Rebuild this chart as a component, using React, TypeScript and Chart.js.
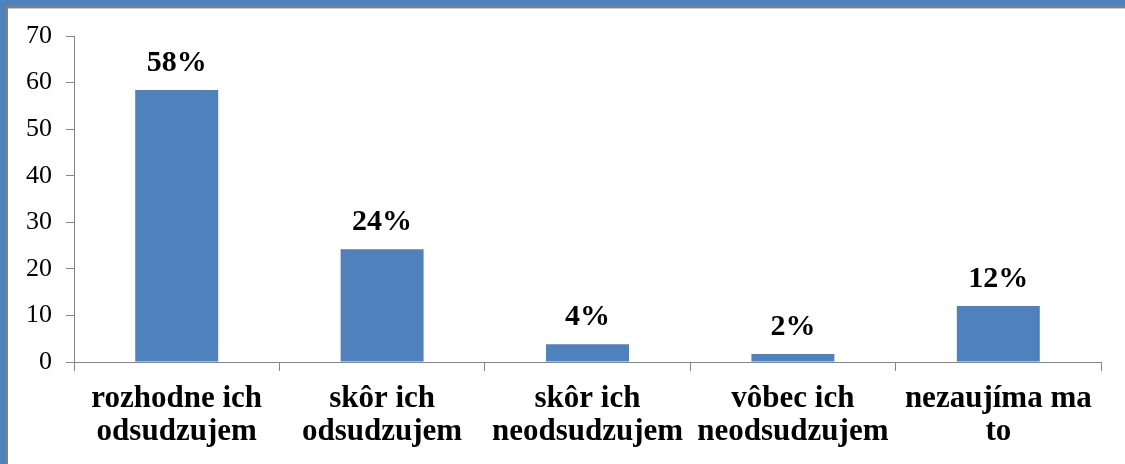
import React, { useEffect, useRef } from "react";
import { Chart, registerables } from "chart.js";

Chart.register(...registerables);

const categories: string[][] = [
  ["rozhodne ich", "odsudzujem"],
  ["skôr ich", "odsudzujem"],
  ["skôr ich", "neodsudzujem"],
  ["vôbec ich", "neodsudzujem"],
  ["nezaujíma ma", "to"],
];
const values: number[] = [58.4, 24.2, 3.8, 1.7, 12.0];
const valueLabels: string[] = ["58%", "24%", "4%", "2%", "12%"];
const yTicks: number[] = [0, 10, 20, 30, 40, 50, 60, 70];

const BLUE = "#4F81BD";
const AXIS = "#868686";
const SERIF = "'Liberation Serif', 'Times New Roman', serif";

const labelPlugin = {
  id: "valueLabels",
  afterDatasetsDraw(chart: any) {
    const ctx = chart.ctx;
    const meta = chart.getDatasetMeta(0);
    ctx.save();
    ctx.font = `bold 30px ${SERIF}`;
    ctx.fillStyle = "#000";
    ctx.textAlign = "center";
    ctx.textBaseline = "alphabetic";
    meta.data.forEach((bar: any, i: number) => {
      ctx.fillText(valueLabels[i], bar.x, bar.y - 19);
    });
    ctx.restore();
  },
};

export default function App() {
  const ref = useRef<HTMLCanvasElement>(null);
  useEffect(() => {
    if (!ref.current) return;
    const chart = new Chart(ref.current, {
      type: "bar",
      data: {
        labels: categories,
        datasets: [
          {
            data: values,
            backgroundColor: BLUE,
            borderWidth: 0,
            barPercentage: 0.404,
            categoryPercentage: 1,
          },
        ],
      },
      options: {
        responsive: false,
        animation: false,
        devicePixelRatio: 1,
        layout: { padding: { top: 36, right: 24, left: 0, bottom: 0 } },
        plugins: { legend: { display: false }, tooltip: { enabled: false } },
        scales: {
          x: {
            offset: true,
            grid: {
              offset: true,
              drawOnChartArea: false,
              drawTicks: true,
              tickLength: 9,
              color: AXIS,
            },
            border: { color: AXIS, width: 1 },
            ticks: {
              color: "#000",
              padding: 12,
              maxRotation: 0,
              autoSkip: false,
              font: { family: SERIF, size: 31, weight: "bold", lineHeight: 1.05 },
            },
            afterFit(scale: any) {
              scale.height = 102;
            },
          },
          y: {
            min: 0,
            max: 70,
            afterBuildTicks(scale: any) {
              scale.ticks = yTicks.map((v) => ({ value: v }));
            },
            grid: {
              drawOnChartArea: false,
              drawTicks: true,
              tickLength: 8,
              color: AXIS,
            },
            border: { color: AXIS, width: 1 },
            ticks: {
              color: "#000",
              padding: 14,
              font: { family: SERIF, size: 26 },
            },
            afterFit(scale: any) {
              scale.width = 74;
            },
          },
        },
      },
      plugins: [labelPlugin],
    } as any);
    return () => chart.destroy();
  }, []);

  return (
    <div
      style={{
        position: "fixed",
        left: 0,
        top: 0,
        width: 1125,
        height: 464,
        background: "#fff",
        overflow: "hidden",
      }}
    >
      <canvas
        ref={ref}
        width={1125}
        height={464}
        style={{ position: "absolute", left: 0, top: 0, width: 1125, height: 464 }}
      />
      <div style={{ position: "absolute", left: 0, top: 0, width: 1125, height: 6, background: BLUE }} />
      <div style={{ position: "absolute", left: 0, top: 0, width: 6, height: 464, background: BLUE }} />
      <div style={{ position: "absolute", left: 6, top: 6, width: 1119, height: 2, background: "#808080" }} />
      <div style={{ position: "absolute", left: 6, top: 6, width: 2, height: 458, background: "#808080" }} />
      <div style={{ position: "absolute", left: 8, top: 8, width: 1117, height: 1, background: "#c8c8c8" }} />
    </div>
  );
}
